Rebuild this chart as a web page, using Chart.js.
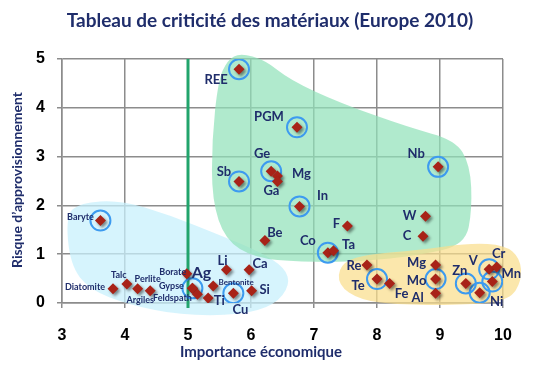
<!DOCTYPE html>
<html>
<head>
<meta charset="utf-8">
<script src="https://cdn.jsdelivr.net/npm/chart.js@4/dist/chart.umd.min.js"></script>
<style>
  html, body { margin: 0; padding: 0; background: #fff; }
  #wrap { width: 533px; height: 369px; position: relative; }
</style>
</head>
<body>
<div id="wrap"><canvas id="c" width="533" height="369"></canvas></div>
<script>
const chartTitle = 'Tableau de criticité des matériaux (Europe 2010)';
const xTitle = 'Importance économique';
const yTitle = 'Risque d\u2019approvisionnement';

const names = ['Baryte', 'Diatomite', 'Talc', 'Perlite', 'Argiles', 'Borate', 'Ag', 'Gypse', 'Feldspath', 'Ti',
	'Bentonite', 'Li', 'Ca', 'Cu', 'Si', 'Be', 'REE', 'PGM', 'Ge', 'Mg',
	'Ga', 'Sb', 'In', 'F', 'Co', 'Ta', 'Nb', 'W', 'C', 'Re',
	'Te', 'Fe', 'Mg', 'Mo', 'Al', 'Zn', 'V', 'Cr', 'Mn', 'Ni'];
const econ = [3.61, 3.81, 4.03, 4.20, 4.40, 4.98, 5.07, 5.07, 5.15, 5.32,
	5.40, 5.61, 5.97, 5.72, 6.01, 6.22, 5.81, 6.73, 6.32, 6.42,
	6.42, 5.81, 6.77, 7.53, 7.22, 7.31, 8.97, 8.77, 8.73, 7.84,
	8.00, 8.20, 8.93, 8.93, 8.93, 9.41, 9.78, 9.90, 9.83, 9.63];
const risk = [1.69, 0.29, 0.39, 0.29, 0.25, 0.60, 0.30, 0.30, 0.18, 0.10,
	0.35, 0.68, 0.68, 0.20, 0.25, 1.28, 4.79, 3.60, 2.70, 2.60,
	2.49, 2.49, 1.98, 1.58, 1.03, 1.07, 2.79, 1.78, 1.37, 0.78,
	0.49, 0.40, 0.78, 0.49, 0.20, 0.40, 0.69, 0.74, 0.44, 0.21];
const circled = [0, 6, 13, 16, 17, 18, 21, 22, 24, 26, 30, 33, 35, 36, 38, 39];
const smallNames = ['Baryte', 'Diatomite', 'Talc', 'Perlite', 'Argiles', 'Borate', 'Gypse', 'Feldspath', 'Bentonite'];
const xTicks = [3, 4, 5, 6, 7, 8, 9, 10];
const yTicks = [0, 1, 2, 3, 4, 5];

// label offsets (px) from each marker
const labelOffsets = [[-20, -3], [-28, -2], [-8, -9], [10, -10], [-10, 9], [-14, -2], [9, -16], [-21, -2], [-25, 4], [11, 3],
	[23, -3], [-4, -9], [11, -6], [7, 17], [13, -1], [10, -8], [-23, 11], [-28, -11], [-9, -17], [24, -2],
	[-6, 9], [-15, -10], [23, -11], [-11, -2], [-20, -12], [15, -6], [-22, -13], [-16, 0], [-16, 0], [-13, 1],
	[-19, 7], [12, 10], [-19, -2], [-19, 2], [-18, 5], [-6, -13], [-16, -9], [2, -13], [19, -8], [17, 9]];

// background zones, outline in data units
const zoneGreen = [[5.83, 5.12], [6.22, 4.98], [6.62, 4.57], [7.41, 4.10], [8.52, 3.59], [9.24, 3.34], [9.48, 2.83],
	[9.51, 1.91], [9.40, 1.19], [8.68, 0.98], [7.73, 0.84], [6.78, 0.84], [6.06, 0.92], [5.59, 1.29], [5.38, 2.11],
	[5.38, 3.34], [5.48, 4.57], [5.63, 4.98]];
const zoneBlue = [[3.06, 1.80], [3.29, 2.05], [3.92, 2.11], [4.71, 1.80], [5.51, 1.39], [6.14, 1.05], [6.54, 0.72],
	[6.62, 0.37], [6.38, -0.04], [5.83, -0.25], [4.87, -0.25], [4.08, -0.04], [3.44, 0.27], [3.13, 0.78]];
const zoneYellow = [[7.41, 0.78], [7.73, 0.98], [8.68, 1.09], [9.48, 1.23], [10.03, 1.19], [10.27, 0.92], [10.30, 0.47],
	[10.11, 0.06], [9.48, -0.04], [8.37, -0.04], [7.73, 0.06], [7.38, 0.37]];

const NAVY = '#1f2d6b';

function blob(ctx, chart, pts, color) {
	const xs = chart.scales.x, ys = chart.scales.y;
	const p = pts.map(d => [xs.getPixelForValue(d[0]), ys.getPixelForValue(d[1])]);
	const n = p.length;
	const mid = i => [(p[i][0] + p[(i + 1) % n][0]) / 2, (p[i][1] + p[(i + 1) % n][1]) / 2];
	ctx.beginPath();
	let m = mid(n - 1);
	ctx.moveTo(m[0], m[1]);
	for (let i = 0; i < n; i++) {
		m = mid(i);
		ctx.quadraticCurveTo(p[i][0], p[i][1], m[0], m[1]);
	}
	ctx.closePath();
	ctx.fillStyle = color;
	ctx.fill();
}

const decor = {
	id: 'decor',
	beforeDatasetsDraw(chart) {
		const ctx = chart.ctx;
		ctx.save();
		blob(ctx, chart, zoneBlue, 'rgba(200,240,252,0.75)');
		blob(ctx, chart, zoneGreen, 'rgba(145,226,186,0.72)');
		blob(ctx, chart, zoneYellow, 'rgba(250,222,140,0.72)');
		const xs = chart.scales.x, ys = chart.scales.y;
		const gx = xs.getPixelForValue(5);
		ctx.strokeStyle = '#22a46c';
		ctx.lineWidth = 3;
		ctx.beginPath();
		ctx.moveTo(gx, ys.getPixelForValue(5));
		ctx.lineTo(gx, ys.getPixelForValue(0) + 5);
		ctx.stroke();
		ctx.restore();
	},
	beforeDatasetDraw(chart, args) {
		if (args.index === 0) {
			const ctx = chart.ctx;
			ctx.save();
			ctx.shadowColor = 'rgba(0,0,0,0.45)';
			ctx.shadowBlur = 3;
			ctx.shadowOffsetX = 2;
			ctx.shadowOffsetY = 2;
		}
	},
	afterDatasetDraw(chart, args) {
		if (args.index === 0) chart.ctx.restore();
	},
	afterDraw(chart) {
		const ctx = chart.ctx;
		const meta = chart.getDatasetMeta(0);
		ctx.save();
		ctx.fillStyle = NAVY;
		ctx.textAlign = 'center';
		ctx.textBaseline = 'middle';
		meta.data.forEach((pt, i) => {
			const nm = names[i];
			let size = 13;
			if (smallNames.includes(nm)) size = 9;
			if (nm === 'Bentonite') size = 8;
			if (nm === 'Ag') size = 16;
			ctx.font = 'bold ' + size + 'px Lato';
			ctx.fillText(nm, pt.x + labelOffsets[i][0], pt.y + labelOffsets[i][1]);
		});
		// titles
		ctx.font = 'bold 19px Lato';
		ctx.fillText(chartTitle, 270, 21);
		ctx.font = 'bold 15px Lato';
		ctx.fillText(xTitle, 261, 352);
		ctx.translate(17, 180);
		ctx.rotate(-Math.PI / 2);
		ctx.font = 'bold 14px Lato';
		ctx.fillText(yTitle, 0, 0);
		ctx.restore();
	}
};

const points = names.map((n, i) => ({ x: econ[i], y: risk[i] }));
const rings = circled.map(i => ({ x: econ[i], y: risk[i] }));

new Chart(document.getElementById('c'), {
	type: 'scatter',
	data: {
		datasets: [{
			data: points,
			pointStyle: 'rectRot',
			pointRadius: 5.5,
			pointHoverRadius: 5.5,
			backgroundColor: '#a82318',
			borderColor: '#a82318',
			borderWidth: 0
		}, {
			data: rings,
			pointStyle: 'circle',
			pointRadius: 10,
			pointHoverRadius: 10,
			backgroundColor: 'rgba(0,0,0,0)',
			borderColor: '#3d9bf0',
			borderWidth: 2
		}]
	},
	options: {
		responsive: false,
		animation: false,
		events: [],
		layout: { padding: { top: 59, right: 30, left: 0, bottom: 0 } },
		plugins: { legend: { display: false }, tooltip: { enabled: false }, title: { display: false } },
		scales: {
			x: {
				type: 'linear',
				min: xTicks[0],
				max: xTicks[xTicks.length - 1],
				afterBuildTicks: s => { s.ticks = xTicks.map(v => ({ value: v })); },
				afterFit: s => { s.height = 66; },
				grid: { color: '#8c8c8c', lineWidth: 1.5, tickLength: 5 },
				border: { color: '#8c8c8c', width: 1.5 },
				ticks: { color: '#000', padding: 18, font: { family: 'Liberation Sans', weight: 'bold', size: 16 } }
			},
			y: {
				type: 'linear',
				min: yTicks[0],
				max: yTicks[yTicks.length - 1],
				afterBuildTicks: s => { s.ticks = yTicks.map(v => ({ value: v })); },
				afterFit: s => { s.width = 62; },
				grid: { color: '#8c8c8c', lineWidth: 1.5, tickLength: 5 },
				border: { color: '#8c8c8c', width: 1.5 },
				ticks: { color: '#000', padding: 12, font: { family: 'Liberation Sans', weight: 'bold', size: 16 } }
			}
		}
	},
	plugins: [decor]
});
</script>
</body>
</html>
